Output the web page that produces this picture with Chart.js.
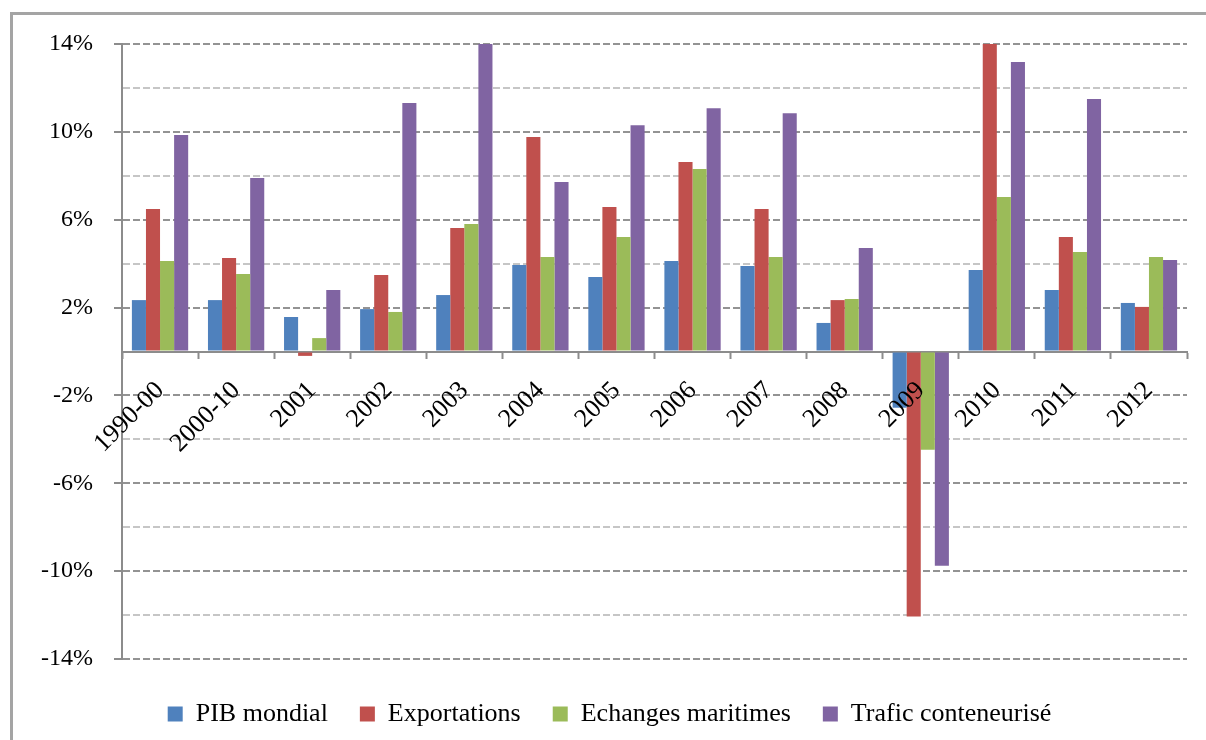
<!DOCTYPE html>
<html>
<head>
<meta charset="utf-8">
<script src="https://cdn.jsdelivr.net/npm/chart.js@4"></script>
<style>
    body { margin: 0; background: #fff; overflow: hidden; }
    #frame { position: absolute; left: 10px; top: 12px; width: 1400px; height: 1000px; border-left: 3px solid #a4a4a4; border-top: 3px solid #a4a4a4; }
    #chart { position: absolute; left: 0; top: 0; }
</style>
</head>
<body>
<div id="frame"></div>
<canvas id="chart" width="1206" height="740"></canvas>
<script>
const categories = ['1990-00', '2000-10', '2001', '2002', '2003', '2004', '2005', '2006', '2007', '2008', '2009', '2010', '2011', '2012'];
const pibMondial = [2.34, 2.34, 1.57, 1.93, 2.57, 3.94, 3.39, 4.12, 3.89, 1.3, -2.56, 3.71, 2.8, 2.21];
const exportations = [6.49, 4.26, -0.2, 3.48, 5.62, 9.77, 6.58, 8.63, 6.49, 2.34, -12.07, 14, 5.21, 2.03];
const echangesMaritimes = [4.12, 3.53, 0.61, 1.8, 5.8, 4.3, 5.21, 8.31, 4.3, 2.39, -4.47, 7.03, 4.53, 4.3];
const traficConteneurise = [9.86, 7.9, 2.8, 11.31, 14, 7.72, 10.3, 11.08, 10.85, 4.71, -9.75, 13.18, 11.5, 4.17];
const yLabelled = [14, 10, 6, 2, -2, -6, -10, -14];

const serif = 'Liberation Serif';
Chart.defaults.color = '#000';
Chart.defaults.font.family = serif;

function isMajor(value) {
    return yLabelled.includes(value);
}

const config = {
    type: 'bar',
    data: {
        labels: categories,
        datasets: [
            { label: 'PIB mondial', data: pibMondial, backgroundColor: '#4f81bd' },
            { label: 'Exportations', data: exportations, backgroundColor: '#c0504d' },
            { label: 'Echanges maritimes', data: echangesMaritimes, backgroundColor: '#9bbb59' },
            { label: 'Trafic conteneurisé', data: traficConteneurise, backgroundColor: '#8064a2' },
        ],
    },
    options: {
        responsive: false,
        animation: false,
        datasets: {
            bar: { categoryPercentage: 0.74, barPercentage: 1 },
        },
        layout: {
            padding: { left: 32, right: 19, top: 44, bottom: 3 },
        },
        scales: {
            x: {
                position: { y: 0 },
                afterFit: scale => { scale.height = 0; },
                grid: {
                    drawOnChartArea: false,
                    drawTicks: true,
                    tickLength: 6,
                    tickColor: '#8c8c8c',
                    tickWidth: 2,
                    color: '#8c8c8c',
                },
                border: { color: '#8c8c8c', width: 2 },
                ticks: {
                    z: 1,
                    autoSkip: false,
                    minRotation: 45,
                    maxRotation: 45,
                    padding: 18,
                    font: { family: serif, size: 26 },
                    color: '#000',
                },
            },
            y: {
                min: -14,
                max: 14,
                afterFit: scale => { scale.width = 90; },
                grid: {
                    color: ctx => ctx.tick.value === 0 ? 'rgba(0,0,0,0)' : (isMajor(ctx.tick.value) ? '#939393' : '#c6c6c6'),
                    lineWidth: 2,
                    tickLength: 8,
                    tickColor: ctx => isMajor(ctx.tick.value) ? '#8c8c8c' : 'rgba(0,0,0,0)',
                    tickWidth: 2,
                },
                border: { color: '#8c8c8c', width: 2, dash: [7, 3] },
                ticks: {
                    stepSize: 2,
                    maxTicksLimit: 20,
                    autoSkip: false,
                    padding: 21,
                    font: { family: serif, size: 24 },
                    color: '#000',
                    callback: value => isMajor(value) ? value + '%' : '',
                },
            },
        },
        plugins: {
            legend: {
                position: 'bottom',
                title: { display: true, text: ' ', font: { size: 5 }, padding: { top: 4, bottom: 0 } },
                labels: {
                    boxWidth: 15,
                    boxHeight: 15,
                    padding: 32,
                    font: { family: serif, size: 26 },
                    color: '#000',
                },
            },
            tooltip: { enabled: false },
        },
    },
};

new Chart(document.getElementById('chart'), config);
</script>
</body>
</html>
